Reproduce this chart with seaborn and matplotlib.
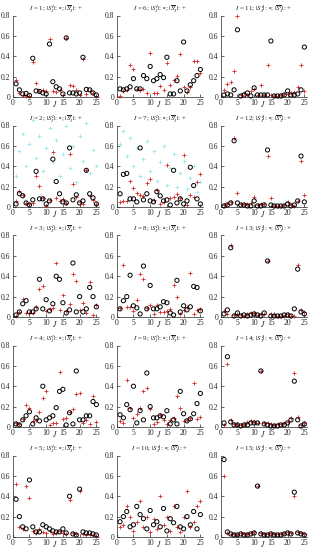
import numpy as np
import pandas as pd
import seaborn as sns
import matplotlib.pyplot as plt

sns.set_style('ticks')
plt.rcParams['font.family'] = ['Liberation Serif', 'DejaVu Serif']
plt.rcParams['mathtext.fontset'] = 'stix'

J = list(range(1, 26))

# |S_J^I| (circles) and |S-bar_J^I| (plus) for each I
S1 = [0.13, 0.07, 0.03, 0.035, 0.016, 0.38, 0.06, 0.055, 0.04, 0.03, 0.52, 0.15, 0.10, 0.08, 0.03,
      0.58, 0.04, 0.04, 0.03, 0.04, 0.39, 0.075, 0.07, 0.04, 0.02]
Sb1 = [0.17, 0.04, 0.02, 0.01, 0.01, 0.34, 0.14, 0.06, 0.07, 0.06, 0.57, 0.06, 0.05, 0.07, 0.02,
       0.58, 0.12, 0.11, 0.07, 0.02, 0.37, 0.03, 0.06, 0.04, 0.01]
S2 = [0.03, 0.13, 0.11, 0.04, 0.02, 0.07, 0.35, 0.08, 0.08, 0.03, 0.06, 0.47, 0.25, 0.13, 0.05,
      0.04, 0.58, 0.07, 0.12, 0.04, 0.06, 0.36, 0.13, 0.09, 0.03]
Sb2 = [0.06, 0.16, 0.12, 0.04, 0.03, 0.04, 0.30, 0.21, 0.09, 0.01, 0.07, 0.54, 0.09, 0.06, 0.08,
       0.04, 0.52, 0.23, 0.10, 0.05, 0.03, 0.36, 0.11, 0.07, 0.03]
S3 = [0.02, 0.05, 0.13, 0.16, 0.05, 0.05, 0.08, 0.37, 0.08, 0.17, 0.06, 0.13, 0.40, 0.37, 0.14,
      0.04, 0.07, 0.53, 0.05, 0.20, 0.05, 0.08, 0.29, 0.20, 0.10]
Sb3 = [0.01, 0.05, 0.18, 0.04, 0.04, 0.04, 0.10, 0.27, 0.30, 0.06, 0.08, 0.09, 0.53, 0.07, 0.22,
       0.06, 0.13, 0.42, 0.35, 0.07, 0.14, 0.04, 0.34, 0.02, 0.12]
S4 = [0.03, 0.02, 0.07, 0.11, 0.15, 0.03, 0.09, 0.06, 0.40, 0.07, 0.09, 0.11, 0.19, 0.35, 0.37,
      0.02, 0.14, 0.03, 0.55, 0.07, 0.07, 0.11, 0.11, 0.25, 0.22]
Sb4 = [0.04, 0.03, 0.08, 0.22, 0.19, 0.06, 0.07, 0.15, 0.28, 0.35, 0.02, 0.04, 0.04, 0.54, 0.08,
       0.09, 0.15, 0.18, 0.32, 0.33, 0.04, 0.07, 0.03, 0.30, 0.05]
S5 = [0.37, 0.20, 0.10, 0.08, 0.56, 0.10, 0.05, 0.05, 0.12, 0.10, 0.08, 0.06, 0.05, 0.05, 0.08,
      0.04, 0.40, 0.03, 0.02, 0.47, 0.05, 0.04, 0.04, 0.03, 0.02]
Sb5 = [0.52, 0.10, 0.08, 0.50, 0.38, 0.06, 0.04, 0.08, 0.05, 0.04, 0.06, 0.03, 0.04, 0.06, 0.04,
       0.03, 0.36, 0.04, 0.03, 0.45, 0.03, 0.02, 0.03, 0.02, 0.01]
S6 = [0.08, 0.07, 0.08, 0.10, 0.18, 0.08, 0.08, 0.21, 0.18, 0.30, 0.16, 0.18, 0.22, 0.19, 0.39,
      0.03, 0.03, 0.16, 0.06, 0.54, 0.06, 0.12, 0.16, 0.21, 0.27]
Sb6 = [0.01, 0.06, 0.07, 0.31, 0.27, 0.08, 0.07, 0.08, 0.04, 0.43, 0.04, 0.04, 0.11, 0.07, 0.33,
       0.12, 0.17, 0.21, 0.42, 0.10, 0.05, 0.10, 0.35, 0.35, 0.24]
S7 = [0.13, 0.32, 0.33, 0.08, 0.08, 0.05, 0.58, 0.07, 0.13, 0.06, 0.05, 0.15, 0.11, 0.06, 0.07,
      0.02, 0.36, 0.04, 0.08, 0.03, 0.06, 0.39, 0.21, 0.08, 0.03]
Sb7 = [0.05, 0.06, 0.06, 0.26, 0.19, 0.14, 0.12, 0.11, 0.24, 0.27, 0.07, 0.17, 0.03, 0.05, 0.41,
       0.09, 0.10, 0.13, 0.09, 0.51, 0.02, 0.12, 0.10, 0.25, 0.32]
S8 = [0.08, 0.16, 0.20, 0.41, 0.11, 0.09, 0.03, 0.50, 0.08, 0.31, 0.08, 0.08, 0.10, 0.15, 0.14,
      0.04, 0.02, 0.36, 0.05, 0.11, 0.07, 0.10, 0.30, 0.29, 0.06]
Sb8 = [0.09, 0.51, 0.10, 0.10, 0.06, 0.17, 0.42, 0.37, 0.09, 0.12, 0.03, 0.12, 0.05, 0.05, 0.06,
       0.08, 0.31, 0.20, 0.03, 0.07, 0.10, 0.43, 0.03, 0.07, 0.08]
S9 = [0.12, 0.09, 0.22, 0.17, 0.40, 0.04, 0.16, 0.07, 0.53, 0.20, 0.09, 0.09, 0.11, 0.10, 0.16,
      0.03, 0.07, 0.03, 0.35, 0.13, 0.06, 0.08, 0.13, 0.23, 0.33]
Sb9 = [0.06, 0.04, 0.46, 0.19, 0.09, 0.13, 0.19, 0.35, 0.38, 0.18, 0.03, 0.05, 0.12, 0.07, 0.03,
       0.07, 0.09, 0.30, 0.19, 0.06, 0.07, 0.09, 0.43, 0.08, 0.10]
S10 = [0.15, 0.20, 0.25, 0.10, 0.12, 0.30, 0.22, 0.18, 0.08, 0.26, 0.12, 0.15, 0.10, 0.28, 0.06,
       0.18, 0.14, 0.30, 0.10, 0.08, 0.20, 0.12, 0.25, 0.08, 0.22]
Sb10 = [0.10, 0.12, 0.30, 0.20, 0.06, 0.15, 0.35, 0.10, 0.20, 0.05, 0.18, 0.08, 0.40, 0.12, 0.20,
        0.06, 0.30, 0.10, 0.05, 0.20, 0.45, 0.10, 0.15, 0.30, 0.35]
S11 = [0.02, 0.03, 0.02, 0.07, 0.66, 0.01, 0.02, 0.04, 0.01, 0.09, 0.02, 0.02, 0.02, 0.02, 0.55,
       0.01, 0.01, 0.01, 0.02, 0.06, 0.02, 0.02, 0.03, 0.07, 0.49]
Sb11 = [0.07, 0.13, 0.15, 0.26, 0.80, 0.02, 0.04, 0.02, 0.06, 0.08, 0.02, 0.12, 0.02, 0.31, 0.02,
        0.01, 0.01, 0.02, 0.03, 0.03, 0.04, 0.05, 0.10, 0.31, 0.06]
S12 = [0.01, 0.02, 0.04, 0.65, 0.04, 0.02, 0.02, 0.01, 0.01, 0.06, 0.01, 0.01, 0.02, 0.56, 0.02,
       0.01, 0.01, 0.01, 0.01, 0.03, 0.01, 0.02, 0.06, 0.50, 0.05]
Sb12 = [0.02, 0.03, 0.05, 0.68, 0.14, 0.03, 0.03, 0.03, 0.04, 0.10, 0.02, 0.03, 0.03, 0.50, 0.09,
        0.01, 0.01, 0.01, 0.02, 0.05, 0.02, 0.01, 0.06, 0.45, 0.12]
S13 = [0.03, 0.07, 0.68, 0.01, 0.04, 0.01, 0.02, 0.01, 0.02, 0.03, 0.02, 0.01, 0.04, 0.55, 0.01,
       0.01, 0.01, 0.01, 0.02, 0.02, 0.01, 0.08, 0.47, 0.05, 0.03]
Sb13 = [0.06, 0.03, 0.71, 0.02, 0.03, 0.02, 0.01, 0.03, 0.04, 0.04, 0.02, 0.03, 0.03, 0.55, 0.03,
        0.03, 0.01, 0.01, 0.01, 0.03, 0.01, 0.01, 0.51, 0.07, 0.05]
S14 = [0.04, 0.69, 0.05, 0.02, 0.02, 0.01, 0.02, 0.02, 0.04, 0.04, 0.04, 0.55, 0.03, 0.02, 0.01,
       0.01, 0.01, 0.02, 0.02, 0.04, 0.07, 0.45, 0.07, 0.01, 0.03]
Sb14 = [0.02, 0.62, 0.07, 0.03, 0.03, 0.02, 0.03, 0.05, 0.06, 0.05, 0.04, 0.55, 0.04, 0.04, 0.03,
        0.02, 0.03, 0.03, 0.04, 0.05, 0.09, 0.53, 0.10, 0.02, 0.04]
S15 = [0.76, 0.05, 0.03, 0.02, 0.02, 0.03, 0.02, 0.02, 0.03, 0.04, 0.50, 0.03, 0.02, 0.02, 0.03,
       0.02, 0.02, 0.02, 0.03, 0.04, 0.03, 0.44, 0.04, 0.03, 0.02]
Sb15 = [0.60, 0.04, 0.03, 0.03, 0.02, 0.04, 0.03, 0.03, 0.04, 0.05, 0.50, 0.04, 0.03, 0.03, 0.04,
        0.03, 0.03, 0.03, 0.04, 0.05, 0.04, 0.40, 0.05, 0.04, 0.03]

# faint cyan marks seen behind the I = 2 and I = 7 panels
C2 = [0.30, 0.55, 0.72, 0.40, 0.62, 0.85, 0.48, 0.70, 0.35, 0.58, 0.78, 0.44, 0.66, 0.30, 0.52,
      0.80, 0.38, 0.60, 0.25, 0.70, 0.45, 0.82, 0.33, 0.56, 0.40]
C7 = [0.62, 0.75, 0.50, 0.68, 0.40, 0.58, 0.30, 0.47, 0.65, 0.35, 0.55, 0.26, 0.44, 0.60, 0.22,
      0.38, 0.52, 0.20, 0.33, 0.45, 0.18, 0.28, 0.40, 0.15, 0.25]

circles = [S1, S2, S3, S4, S5, S6, S7, S8, S9, S10, S11, S12, S13, S14, S15]
pluses = [Sb1, Sb2, Sb3, Sb4, Sb5, Sb6, Sb7, Sb8, Sb9, Sb10, Sb11, Sb12, Sb13, Sb14, Sb15]
cyans = {2: C2, 7: C7}

W, H = 312, 550
fig = plt.figure(figsize=(W / 100, H / 100), dpi=100)

for k in range(15):
    col, row = k // 5, k % 5
    x0 = col * 104 + 12.7
    y_top = row * 110 + 15.5
    ax = fig.add_axes([x0 / W, 1 - (y_top + 81.5) / H, 86 / W, 81.5 / H])
    df = pd.DataFrame({'J': J, 'S': circles[k], 'Sb': pluses[k]})
    if k + 1 in cyans:
        dc = pd.DataFrame({'J': J, 'C': cyans[k + 1]})
        sns.scatterplot(data=dc, x='J', y='C', marker='+', color='#9fe3f0',
                        s=10, linewidth=0.6, ax=ax, clip_on=False, zorder=2)
    sns.scatterplot(data=df, x='J', y='Sb', marker='+', color='#d42a2a',
                    s=10, linewidth=0.6, ax=ax, clip_on=False, zorder=3)
    sns.scatterplot(data=df, x='J', y='S', marker='o', facecolor='none',
                    edgecolor='black', s=9, linewidth=0.7, ax=ax, clip_on=False, zorder=4)
    ax.set_xlim(0, 25.7)
    ax.set_ylim(0, 0.8)
    ax.set_xticks([0, 5, 10, 15, 20, 25])
    ax.set_yticks([0, 0.2, 0.4, 0.6, 0.8])
    ax.set_yticklabels(['0', '0.2', '0.4', '0.6', '0.8'])
    ax.tick_params(direction='in', length=2, width=0.5, labelsize=5.5, pad=1.5)
    for sp in ['top', 'right']:
        ax.spines[sp].set_visible(False)
    for sp in ['left', 'bottom']:
        ax.spines[sp].set_linewidth(0.5)
    ax.set_xlabel('')
    ax.set_ylabel('')
    ax.text(0.49, -0.09, '$J$', transform=ax.transAxes, ha='center', va='center', fontsize=5.5)
    ax.set_title(r'$I$ = %d; $|S_J^I|$: $\circ$; $|\overline{S}_J^I|$: +' % (k + 1),
                 fontsize=5, pad=3)

fig.savefig('out.png', dpi=100)
